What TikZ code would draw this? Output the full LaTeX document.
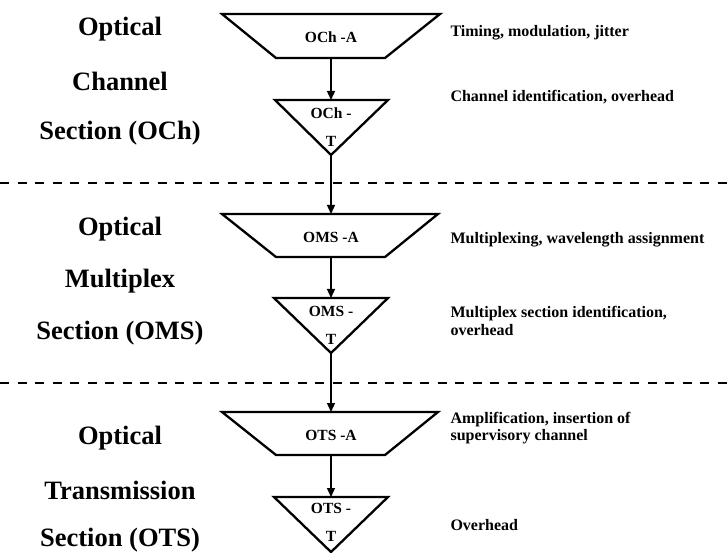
\documentclass[tikz,border=0pt]{standalone}
\usepackage{fontspec}
\setmainfont{Liberation Serif}
\usetikzlibrary{arrows.meta}
\begin{document}
\begin{tikzpicture}[x=1pt,y=-1pt,
  shapeline/.style={line width=2.3pt, line join=miter},
  flow/.style={line width=1.4pt, -{Triangle[length=9pt,width=8pt]}},
  divider/.style={line width=1.6pt, dash pattern=on 9pt off 8.5pt},
  layername/.style={font=\fontsize{26.5}{30}\selectfont\bfseries, anchor=center},
  shapelabel/.style={font=\fontsize{15.5}{17}\selectfont\bfseries, anchor=center},
  note/.style={font=\fontsize{16}{17.5}\selectfont\bfseries, anchor=west, align=left},
]
\useasboundingbox (0,0) rectangle (728,553);

% section dividers
\draw[divider] (0,183) -- (728,183);
\draw[divider] (0,383) -- (728,383);

% layer names
\node[layername] (och1) at (120,29) {Optical};
\node[layername] (och2) at (120,81) {Channel};
\node[layername] (och3) at (120,133) {Section (OCh)};
\node[layername] (oms1) at (120,229) {Optical};
\node[layername] (oms2) at (120,281) {Multiplex};
\node[layername] (oms3) at (120,333) {Section (OMS)};
\node[layername] (ots1) at (120,438) {Optical};
\node[layername] (ots2) at (120,490) {Transmission};
\node[layername] (ots3) at (120,540) {Section (OTS)};

% OCh: adaptation and termination
\draw[shapeline] (222,14) -- (440,14) -- (385,58) -- (276,58) -- cycle;
\coordinate (ochAtop) at (331,14);
\coordinate (ochAbot) at (331,58);
\node[shapelabel] (ochA) at (331,37) {OCh -A};
\draw[shapeline] (275,100) -- (388,100) -- (331,155) -- cycle;
\coordinate (ochTtop) at (331,100);
\coordinate (ochTtip) at (331,155);
\node[shapelabel] (ochT1) at (331,113) {OCh -};
\node[shapelabel] (ochT2) at (331,141) {T};

% OMS: adaptation and termination
\draw[shapeline] (222,214) -- (438,214) -- (385,257) -- (276,257) -- cycle;
\coordinate (omsAtop) at (331,214);
\coordinate (omsAbot) at (331,257);
\node[shapelabel] (omsA) at (331,237) {OMS -A};
\draw[shapeline] (274,298) -- (388,298) -- (331,353) -- cycle;
\coordinate (omsTtop) at (331,298);
\coordinate (omsTtip) at (331,353);
\node[shapelabel] (omsT1) at (331,311) {OMS -};
\node[shapelabel] (omsT2) at (331,339) {T};

% OTS: adaptation and termination
\draw[shapeline] (222,412) -- (438,412) -- (385,455) -- (276,455) -- cycle;
\coordinate (otsAtop) at (331,412);
\coordinate (otsAbot) at (331,455);
\node[shapelabel] (otsA) at (331,435) {OTS -A};
\draw[shapeline] (274,497) -- (388,497) -- (331,552) -- cycle;
\coordinate (otsTtop) at (331,497);
\node[shapelabel] (otsT1) at (331,508) {OTS -};
\node[shapelabel] (otsT2) at (331,536) {T};

% signal flow
\draw[flow] (ochAbot) -- (ochTtop);
\draw[flow] (ochTtip) -- (omsAtop);
\draw[flow] (omsAbot) -- (omsTtop);
\draw[flow] (omsTtip) -- (otsAtop);
\draw[flow] (otsAbot) -- (otsTtop);

% functions of each layer
\node[note] (f1) at (447,33) {Timing, modulation, jitter};
\node[note] (f2) at (447,97) {Channel identification, overhead};
\node[note] (f3) at (447,240) {Multiplexing, wavelength assignment};
\node[note] (f4) at (447,321) {Multiplex section identification,\\overhead};
\node[note] (f5) at (447,428) {Amplification, insertion of\\supervisory channel};
\node[note] (f6) at (447,525) {Overhead};
\end{tikzpicture}
\end{document}
